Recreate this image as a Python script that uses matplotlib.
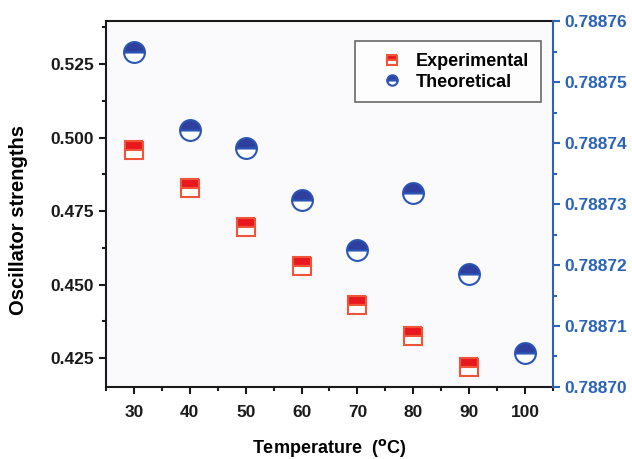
import matplotlib
matplotlib.use("Agg")
import matplotlib.pyplot as plt
from matplotlib.ticker import MultipleLocator, FormatStrFormatter

plt.rcParams['font.family'] = ['Liberation Sans', 'DejaVu Sans']
plt.rcParams['font.weight'] = 'bold'

temps_exp = [30, 40, 50, 60, 70, 80, 90]
experimental = [0.4956, 0.4827, 0.4696, 0.4563, 0.4432, 0.4325, 0.4221]
temps_th = [30, 40, 50, 60, 70, 80, 90, 100]
theoretical = [0.788755, 0.7887421, 0.7887392, 0.7887307, 0.7887225, 0.7887318, 0.7887185, 0.7887056]

red = '#e8191e'
red_edge = '#f0553a'
blue = '#2e3f9e'
blue_edge = '#2a55b5'
axis_blue = '#2a63b8'

fig = plt.figure(figsize=(6.32, 4.59), dpi=100)
fig.patch.set_facecolor('white')
ax = fig.add_axes([0.1677, 0.1569, 0.7073, 0.797])
ax.set_facecolor('#fafafd')
ax2 = ax.twinx()

l1, = ax.plot(temps_exp, experimental, linestyle='none', marker='s', markersize=13.5,
              fillstyle='top', markerfacecolor=red, markerfacecoloralt='white',
              markeredgecolor=red_edge, markeredgewidth=1.5, label='Experimental')
l2, = ax2.plot(temps_th, theoretical, linestyle='none', marker='o', markersize=15,
               fillstyle='top', markerfacecolor=blue, markerfacecoloralt='white',
               markeredgecolor=blue_edge, markeredgewidth=1.5, label='Theoretical')

ax.set_xlim(25, 105)
ax.set_ylim(0.41515, 0.5396)
ax2.set_ylim(0.78870, 0.78876)

ax.xaxis.set_major_locator(MultipleLocator(10))
ax.xaxis.set_minor_locator(MultipleLocator(5))
ax.yaxis.set_major_locator(MultipleLocator(0.025))
ax.yaxis.set_minor_locator(MultipleLocator(0.0125))
ax.yaxis.set_major_formatter(FormatStrFormatter('%.3f'))
ax2.yaxis.set_major_locator(MultipleLocator(0.00001))
ax2.yaxis.set_minor_locator(MultipleLocator(0.000005))
ax2.yaxis.set_major_formatter(FormatStrFormatter('%.5f'))

for sp in ['left', 'bottom', 'top']:
    ax.spines[sp].set_linewidth(1.5)
    ax.spines[sp].set_color('#1a1a1a')
ax.spines['right'].set_visible(False)
for sp in ['left', 'bottom', 'top']:
    ax2.spines[sp].set_visible(False)
ax2.spines['right'].set_color(axis_blue)
ax2.spines['right'].set_linewidth(1.5)

ax.tick_params(axis='both', which='major', direction='out', length=5, width=1.5,
               labelsize=12.5, colors='#1a1a1a')
ax.tick_params(axis='both', which='minor', direction='out', length=3, width=1.5, colors='#1a1a1a')
ax.tick_params(axis='x', pad=8)
ax2.tick_params(axis='y', which='major', direction='out', length=5, width=1.5,
                labelsize=12.5, colors=axis_blue)
ax2.tick_params(axis='y', which='minor', direction='out', length=3, width=1.5, colors=axis_blue)

ax.set_ylabel('Oscillator strengths', fontsize=14.5, fontweight='bold')
ax.yaxis.set_label_coords(-0.1745, 0.456)
ax.set_xlabel('Temperature  ($^{\\rm o}$C)', fontsize=13, fontweight='bold', labelpad=12)

leg = ax.legend(handles=[l1, l2], loc='upper right', bbox_to_anchor=(0.973, 0.945),
                borderaxespad=0, fontsize=13, frameon=True, fancybox=False,
                edgecolor='#444444', markerscale=0.5, handletextpad=0.0, borderpad=0.65,
                labelspacing=0.2, handlelength=2.7)
leg.get_frame().set_linewidth(1.2)
for t in leg.get_texts():
    t.set_fontweight('bold')

fig.savefig('out.png', dpi=100, facecolor='white')
